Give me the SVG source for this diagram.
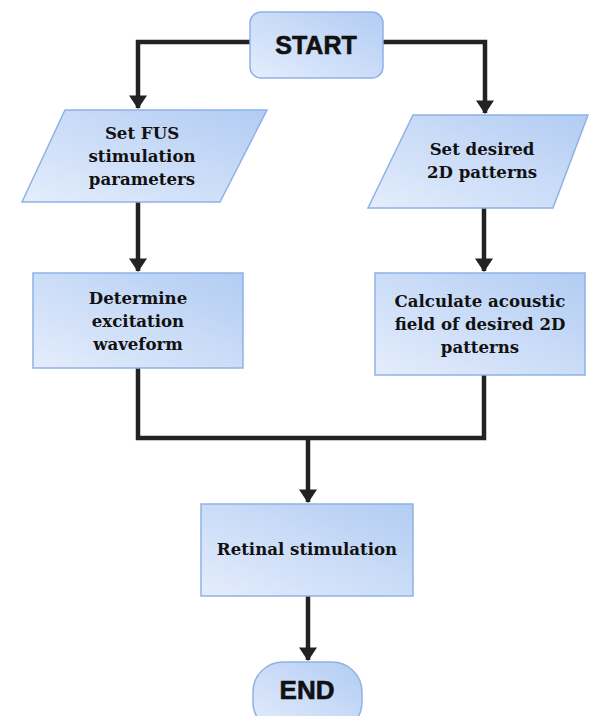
<svg xmlns="http://www.w3.org/2000/svg" width="589" height="716" viewBox="0 0 589 716">
<defs>
<linearGradient id="g" x1="0" y1="1" x2="1" y2="0">
<stop offset="0" stop-color="#e4edfc"/>
<stop offset="1" stop-color="#b2ccf3"/>
</linearGradient>
<marker id="ah" markerWidth="4" markerHeight="4" refX="2.8" refY="2" orient="auto" markerUnits="strokeWidth">
<path d="M0,0 L3,2 L0,4 Z" fill="#222"/>
</marker>
<style>
.n{fill:url(#g);stroke:#8fb2e6;stroke-width:1.5}
.t{font-family:"DejaVu Serif",serif;font-weight:bold;font-size:16.6px;fill:#111;text-anchor:middle}
.h{font-family:"Liberation Sans",Arial,sans-serif;font-weight:bold;font-size:25px;fill:#111;text-anchor:middle;stroke:#111;stroke-width:0.6}
.c{fill:none;stroke:#222;stroke-width:4.5}
</style>
</defs>
<rect width="589" height="716" fill="#fff"/>
<g id="connectors">
<path class="c" d="M250,42 H138 V108" marker-end="url(#ah)"/>
<path class="c" d="M383,42 H485 V113" marker-end="url(#ah)"/>
<path class="c" d="M138,202 V271" marker-end="url(#ah)"/>
<path class="c" d="M484,208 V271" marker-end="url(#ah)"/>
<path class="c" d="M138,368 V438 H484 V375"/>
<path class="c" d="M308,438 V502" marker-end="url(#ah)"/>
<path class="c" d="M308,596 V660" marker-end="url(#ah)"/>
</g>
<g id="start">
<rect class="n" x="250" y="12" width="133" height="66" rx="11"/>
<text class="h" x="316" y="54">START</text>
</g>
<g id="set-fus">
<polygon class="n" points="65,110 267,110 220,202 22,202"/>
<text class="t" x="142" y="139">Set FUS</text>
<text class="t" x="142" y="162">stimulation</text>
<text class="t" x="142" y="185">parameters</text>
</g>
<g id="set-patterns">
<polygon class="n" points="413,115 588,115 553,208 368,208"/>
<text class="t" x="482" y="155">Set desired</text>
<text class="t" x="482" y="178">2D patterns</text>
</g>
<g id="determine">
<rect class="n" x="33" y="273" width="210" height="95"/>
<text class="t" x="138" y="304">Determine</text>
<text class="t" x="138" y="327">excitation</text>
<text class="t" x="138" y="350">waveform</text>
</g>
<g id="calculate">
<rect class="n" x="375" y="273" width="210" height="102"/>
<text class="t" x="480" y="307">Calculate acoustic</text>
<text class="t" x="480" y="330">field of desired 2D</text>
<text class="t" x="480" y="353">patterns</text>
</g>
<g id="retinal">
<rect class="n" x="201" y="504" width="212" height="92"/>
<text class="t" x="307" y="555">Retinal stimulation</text>
</g>
<g id="end">
<rect class="n" x="253" y="662" width="109" height="70" rx="30"/>
<text class="h" x="307" y="699" style="font-size:26px">END</text>
</g>
</svg>
